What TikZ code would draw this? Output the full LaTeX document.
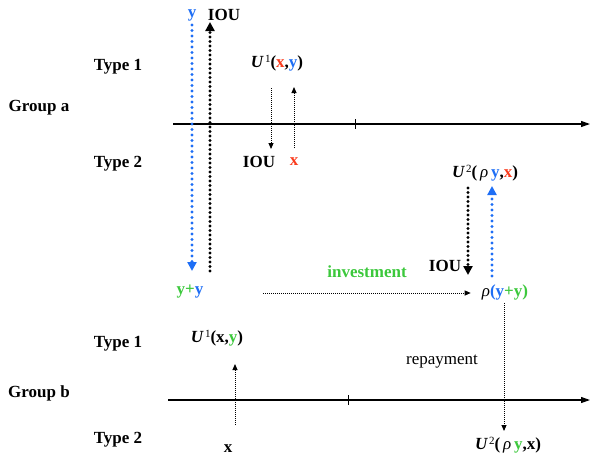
\documentclass[tikz,border=0pt]{standalone}
\usepackage{fontspec}
\setmainfont{Liberation Serif}
\usetikzlibrary{arrows.meta}
\definecolor{cb}{RGB}{30,110,245}
\definecolor{cr}{RGB}{250,60,30}
\definecolor{cg}{RGB}{60,200,60}
\newcommand{\Uf}[1]{{\bfseries\itshape U}\raisebox{0.6ex}{\fontsize{11}{11}\selectfont\mdseries\,#1}}
\newcommand{\rh}{{\itshape\mdseries ρ}}
\begin{document}
\begin{tikzpicture}[x=1pt,y=-1pt,
  lbl/.style={font=\fontsize{17}{19}\selectfont\bfseries, inner sep=0pt},
  plain/.style={font=\fontsize{17}{19}\selectfont, inner sep=0pt},
  axisline/.style={line width=1.1pt, -{Triangle[length=9pt,width=6pt]}},
  bigblue/.style={draw=cb, line width=3.2pt, line cap=round, dash pattern=on 0pt off 5.5pt,
     -{Triangle[length=9pt,width=9pt]}},
  bigblack/.style={draw=black, line width=3.2pt, line cap=round, dash pattern=on 0pt off 4.5pt,
     -{Triangle[length=9pt,width=9pt]}},
  thin/.style={line width=0.9pt, dash pattern=on 1pt off 1pt, -{Triangle[length=6pt,width=5pt]}}
]
\useasboundingbox (0,0) rectangle (592,459);

% labels
\node[lbl] (ga) at (39,108) {Group a};
\node[lbl] (t1a) at (118,67) {Type 1};
\node[lbl] (t2a) at (118,164) {Type 2};
\node[lbl] (gb) at (39,393) {Group b};
\node[lbl] (t1b) at (118,344) {Type 1};
\node[lbl] (t2b) at (118,440) {Type 2};

\node[lbl,text=cb] (ytop) at (192,15) {y};
\node[lbl] (ioutop) at (224,15) {IOU};
\node[lbl] (u1a) at (277,63) {\Uf{1}(\textcolor{cr}{x},\textcolor{cb}{y})};
\node[lbl] (ioua) at (259,162) {IOU};
\node[lbl,text=cr] (xa) at (294,162) {x};
\node[lbl] (u2a) at (485,173) {\Uf{2}(\,\rh\,\textcolor{cb}{y},\textcolor{cr}{x})};
\node[lbl] (iouc) at (445,266) {IOU};
\node[lbl,text=cg] (inv) at (367,272) {investment};
\node[lbl] (yy) at (190,292) {\textcolor{cg}{y+}\textcolor{cb}{y}};
\node[lbl] (ryy) at (505,292) {\rh\textcolor{cb}{(y}\textcolor{cg}{+y)}};
\node[lbl] (u1b) at (217,338) {\Uf{1}(x,\textcolor{cg}{y})};
\node[plain] (rep) at (442,362) {repayment};
\node[lbl] (xb) at (228,449) {x};
\node[lbl] (u2b) at (508,445) {\Uf{2}(\,\rh\,\textcolor{cg}{y},x)};

% axes
\coordinate (a1) at (173,124);
\coordinate (a2) at (590,124);
\coordinate (at1) at (355,119);
\coordinate (at2) at (355,129);
\draw[axisline] (a1) -- (a2);
\draw[line width=0.6pt] (at1) -- (at2);
\coordinate (b1) at (168,400);
\coordinate (b2) at (590,400);
\coordinate (bt1) at (348,395);
\coordinate (bt2) at (348,405);
\draw[axisline] (b1) -- (b2);
\draw[line width=0.6pt] (bt1) -- (bt2);

% big dotted arrows left
\coordinate (bl1) at (192,25);
\coordinate (bl2) at (192,271);
\draw[bigblue] (bl1) -- (bl2);
\coordinate (bk1) at (210,271);
\coordinate (bk2) at (210,22);
\draw[bigblack] (bk1) -- (bk2);

% thin arrows group a type 1
\coordinate (ta1) at (271,88);
\coordinate (ta2) at (271,149);
\draw[thin] (ta1) -- (ta2);
\coordinate (tb1) at (294,148);
\coordinate (tb2) at (294,87);
\draw[thin] (tb1) -- (tb2);

% big dotted arrows right
\coordinate (rk1) at (468,188);
\coordinate (rk2) at (468,275);
\draw[bigblack] (rk1) -- (rk2);
\coordinate (rb1) at (492,276);
\coordinate (rb2) at (492,186);
\draw[bigblue] (rb1) -- (rb2);

% investment
\coordinate (iv1) at (263,293);
\draw[thin, shorten >=11pt] (iv1) -- (ryy.west |- iv1);

% repayment
\coordinate (rp1) at (504,303);
\coordinate (rp2) at (504,431);
\draw[thin] (rp1) -- (rp2);

% lower x arrow
\coordinate (lx1) at (235,425);
\coordinate (lx2) at (235,364);
\draw[thin] (lx1) -- (lx2);
\end{tikzpicture}
\end{document}
